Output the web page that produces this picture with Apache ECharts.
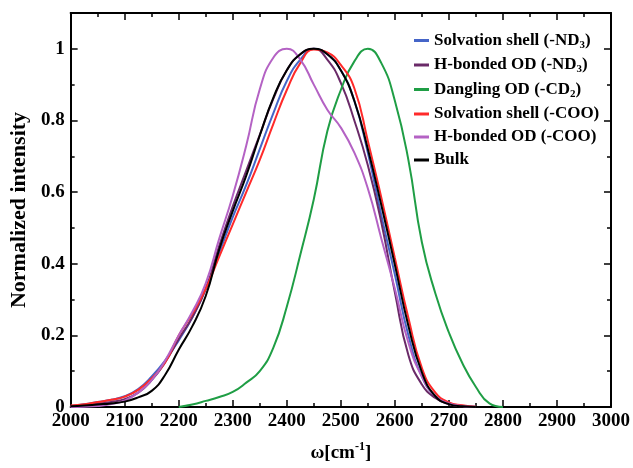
<!DOCTYPE html>
<html>
<head>
<meta charset="utf-8">
<script src="https://cdn.jsdelivr.net/npm/echarts@6/dist/echarts.min.js"></script>
<style>html,body{margin:0;padding:0;background:#fff}#c{width:633px;height:468px}</style>
</head>
<body>
<div id="c"></div>
<script>
// wavenumbers (cm^-1)
var waves = [2000,2025,2050,2075,2100,2125,2150,2175,2200,2225,2250,2275,2300,2325,2350,2375,2400,2425,2450,2475,2500,2525,2550,2575,2600,2625,2650,2675,2700,2725,2750];
var wavesGreen = [2200,2225,2250,2275,2300,2325,2350,2375,2400,2425,2450,2475,2500,2525,2550,2575,2600,2625,2650,2675,2700,2725,2750,2775,2800];

var solvND3 = [0.003,0.008,0.014,0.02,0.03,0.05,0.085,0.13,0.186,0.25,0.33,0.43,0.53,0.62,0.72,0.82,0.91,0.97,1.0,0.985,0.94,0.855,0.71,0.535,0.37,0.2,0.085,0.03,0.009,0.003,0.001];
var hbND3 = [0.002,0.005,0.009,0.014,0.022,0.04,0.075,0.125,0.19,0.25,0.33,0.45,0.56,0.66,0.76,0.86,0.94,0.985,1.0,0.97,0.905,0.80,0.675,0.515,0.32,0.145,0.063,0.025,0.008,0.002,0.0];
var danglingCD2 = [0,0.007,0.017,0.028,0.042,0.068,0.10,0.165,0.28,0.425,0.58,0.77,0.885,0.965,1.0,0.96,0.855,0.69,0.46,0.317,0.208,0.122,0.056,0.01,0];
var solvCOO = [0.004,0.008,0.014,0.02,0.029,0.048,0.08,0.125,0.20,0.26,0.33,0.42,0.51,0.60,0.69,0.79,0.885,0.96,0.998,0.99,0.955,0.89,0.743,0.584,0.416,0.249,0.109,0.04,0.013,0.005,0.001];
var hbCOO = [0.0,0.001,0.003,0.008,0.018,0.04,0.075,0.13,0.20,0.265,0.345,0.47,0.59,0.73,0.887,0.975,1.0,0.97,0.90,0.83,0.78,0.71,0.61,0.47,0.33,0.18,0.085,0.03,0.01,0.003,0.0];
var bulk = [0.002,0.004,0.007,0.01,0.015,0.027,0.045,0.09,0.16,0.225,0.31,0.44,0.547,0.646,0.758,0.863,0.94,0.985,1.0,0.985,0.94,0.855,0.72,0.563,0.397,0.227,0.097,0.03,0.008,0.002,0.0];

var names = ['Solvation shell (-ND3)','H-bonded OD (-ND3)','Dangling OD (-CD2)','Solvation shell (-COO)','H-bonded OD (-COO)','Bulk'];
var colors = ['#4565c8','#6a2a68','#1f9e45','#ff2a2a','#b462c4','#000000'];

function pairs(xs, ys){ return xs.map(function(x,i){ return [x, ys[i]]; }); }

var FONT = '"Liberation Serif","Times New Roman",serif';
var chart = echarts.init(document.getElementById('c'));

var seriesData = [
  pairs(waves, solvND3),
  pairs(waves, hbND3),
  pairs(wavesGreen, danglingCD2),
  pairs(waves, solvCOO),
  pairs(waves, hbCOO),
  pairs(waves, bulk)
];

var series = seriesData.map(function(d, i){
  return {
    name: names[i], type: 'line', data: d, showSymbol: false, symbol: 'none',
    smooth: 0.5,
    lineStyle: {color: colors[i], width: 2},
    itemStyle: {color: colors[i]},
    xAxisIndex: 0, yAxisIndex: 0, z: 2 + i
  };
});

var tickCommon = {inside: true, lineStyle: {color: '#000', width: 1.5}};
var lineCommon = {show: true, onZero: false, lineStyle: {color: '#000', width: 2}};
var labelCommon = {color: '#000', fontFamily: FONT, fontWeight: 'bold', fontSize: 19};

chart.setOption({
  animation: false,
  backgroundColor: '#fff',
  grid: {left: 68, right: 21, top: 13, bottom: 55, containLabel: false},
  legend: {
    orient: 'vertical', left: 409, top: 27, itemWidth: 15, itemHeight: 3, itemGap: 6,
    icon: 'rect',
    data: names,
    formatter: function(n){
      var m = n.match(/^(.*?)(\d)\)$/);
      if (m) return '{n|' + m[1] + '}{s|' + m[2] + '}{n|)}';
      return '{n|' + n + '}';
    },
    textStyle: {
      color: '#000', fontFamily: FONT, fontWeight: 'bold', fontSize: 17,
      rich: {
        n: {color: '#000', fontFamily: FONT, fontWeight: 'bold', fontSize: 17, lineHeight: 20},
        s: {color: '#000', fontFamily: FONT, fontWeight: 'bold', fontSize: 11, lineHeight: 11, verticalAlign: 'bottom'}
      }
    }
  },
  xAxis: [
    {
      type: 'value', min: 2000, max: 3000, interval: 100, position: 'bottom',
      axisLine: lineCommon,
      axisTick: Object.assign({length: 7}, tickCommon),
      minorTick: {show: true, splitNumber: 2, length: 4, lineStyle: {color: '#000', width: 1.5}},
      splitLine: {show: false},
      axisLabel: Object.assign({margin: 5, formatter: function(v){ return String(v); }}, labelCommon),
      name: '{a|ω[cm}{b|-1}{a|]}',
      nameLocation: 'middle', nameGap: 34,
      nameTextStyle: {
        rich: {
          a: {color: '#000', fontFamily: FONT, fontWeight: 'bold', fontSize: 19, lineHeight: 22, verticalAlign: 'bottom'},
          b: {color: '#000', fontFamily: FONT, fontWeight: 'bold', fontSize: 12, lineHeight: 22, verticalAlign: 'top'}
        }
      }
    },
    {
      type: 'value', min: 2000, max: 3000, interval: 100, position: 'top',
      axisLine: lineCommon,
      axisTick: Object.assign({length: 7}, tickCommon),
      minorTick: {show: true, splitNumber: 2, length: 4, lineStyle: {color: '#000', width: 1.5}},
      splitLine: {show: false},
      axisLabel: {show: false}
    }
  ],
  yAxis: [
    {
      type: 'value', min: 0, max: 1.1, interval: 0.2, position: 'left',
      axisLine: lineCommon,
      axisTick: Object.assign({length: 7}, tickCommon),
      splitLine: {show: false},
      axisLabel: Object.assign({margin: 6, showMaxLabel: false}, labelCommon),
      name: 'Normalized intensity', nameLocation: 'middle', nameGap: 38, nameRotate: 90,
      nameTextStyle: {color: '#000', fontFamily: FONT, fontWeight: 'bold', fontSize: 22}
    },
    {
      type: 'value', min: 0, max: 1.1, interval: 0.1, position: 'left',
      axisLine: {show: false},
      axisTick: Object.assign({length: 4}, tickCommon),
      splitLine: {show: false},
      axisLabel: {show: false}
    },
    {
      type: 'value', min: 0, max: 1.1, interval: 0.2, position: 'right',
      axisLine: lineCommon,
      axisTick: Object.assign({length: 7}, tickCommon),
      splitLine: {show: false},
      axisLabel: {show: false}
    },
    {
      type: 'value', min: 0, max: 1.1, interval: 0.1, position: 'right',
      axisLine: {show: false},
      axisTick: Object.assign({length: 4}, tickCommon),
      splitLine: {show: false},
      axisLabel: {show: false}
    }
  ],
  series: series
});
</script>
</body>
</html>
